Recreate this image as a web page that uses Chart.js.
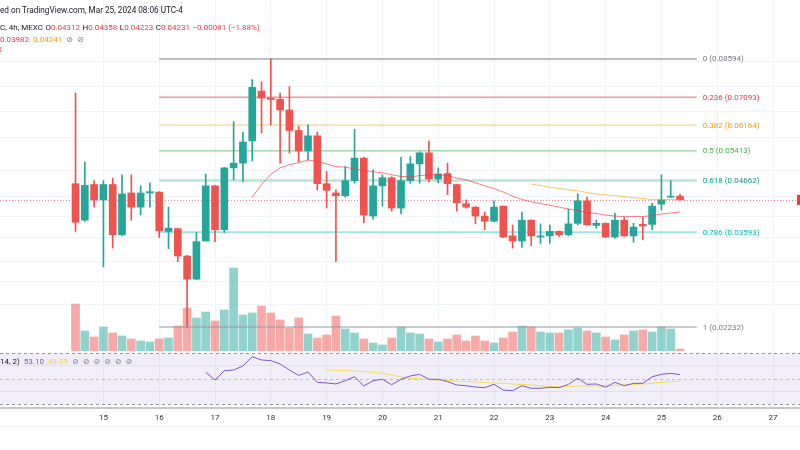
<!DOCTYPE html>
<html><head><meta charset="utf-8">
<script src="https://cdn.jsdelivr.net/npm/chart.js@4.4.1/dist/chart.umd.min.js"></script>
<style>
html,body{margin:0;padding:0;background:#fff;width:800px;height:450px;overflow:hidden;font-family:Roboto,"DejaVu Sans",sans-serif;}
canvas{position:absolute;left:0;}
#c1{top:0;}
#c2{top:351px;}
.t{position:absolute;font-size:8px;line-height:10px;white-space:pre;color:#131722;}
.r{color:#f23645;}
.o{color:#ff9800;}
.g{color:#787b86;}
.p{color:#7e57c2;}
.y{color:#f2cf2e;}
.s{margin-left:4px;}
.s2{margin-left:2.5px;}
</style></head><body>
<canvas id="c1" width="800" height="351"></canvas>
<canvas id="c2" width="800" height="81"></canvas>
<div class="t" style="top:4.5px;left:0;font-size:8.2px">ed on TradingView.com, Mar 25, 2024 08:06 UTC-4</div>
<div class="t" style="top:23px;left:0">C, 4h, MEXC<span class="s2">O</span><span class="r">0.04312</span><span class="s2">H</span><span class="r">0.04358</span><span class="s2">L</span><span class="r">0.04223</span><span class="s2">C</span><span class="r">0.04231</span><span class="r s2">−0.00081 (−1.88%)</span></div>
<div class="t" style="top:34.5px;left:0"><span class="r">0.03982</span><span class="o s">0.04241</span><span class="g s">⊘</span><span class="g s">⊘</span></div>
<div class="t r" style="top:45px;left:-3px">X</div>
<div class="t" style="top:356.5px;left:0"><span>14, 2)</span><span class="p s">53.10</span><span class="y s">48.09</span><span class="g s">⊘</span><span class="g s">⊘</span><span class="g s">⊘</span><span class="g s">⊘</span><span class="g s">⊘</span><span class="g s">⊘</span></div>
<script>
// ---- data (4h candles, MEXC, first candle Mar 14 12:00) ----
const opens  = [0.0459,0.0382,0.0457,0.0423,0.0457,0.0355,0.0438,0.0408,0.0438,0.0440,
                0.0361,0.0366,0.0319,0.0284,0.0344,0.0454,0.0364,0.0497,0.0509,0.0569,
                0.0731,0.0706,0.0702,0.0665,0.0600,0.0541,0.0584,0.0459,0.0438,0.0432,
                0.0466,0.0522,0.0390,0.0454,0.0473,0.0406,0.0466,0.0507,0.0536,0.0470,
                0.0483,0.0457,0.0415,0.0408,0.0390,0.0380,0.0410,0.0353,0.0344,0.0382,
                0.0351,0.0353,0.0361,0.0355,0.0376,0.0421,0.0372,0.0376,0.0351,0.0382,
                0.0353,0.0374,0.0374,0.0414,0.0429,0.04312];
const highs  = [0.0724,0.0512,0.0466,0.0466,0.0472,0.0480,0.0480,0.0454,0.0461,0.0441,
                0.0408,0.0367,0.0320,0.0359,0.0482,0.0455,0.0498,0.0627,0.0595,0.0775,
                0.0766,0.08594,0.0724,0.0748,0.0613,0.0617,0.0595,0.0488,0.0445,0.0500,
                0.0603,0.0524,0.0492,0.0480,0.0475,0.0524,0.0526,0.0539,0.0569,0.0497,
                0.0509,0.0458,0.0423,0.0409,0.0398,0.0421,0.0410,0.0373,0.0398,0.0383,
                0.0375,0.0373,0.0362,0.0404,0.0436,0.0429,0.0382,0.0377,0.0396,0.0387,
                0.0376,0.0387,0.0416,0.0480,0.0466,0.04358];
const lows   = [0.0361,0.0380,0.0408,0.0302,0.0332,0.0354,0.0382,0.0392,0.0408,0.0350,
                0.0331,0.0310,0.02232,0.0283,0.0344,0.0343,0.0359,0.0468,0.0463,0.0515,
                0.0592,0.0617,0.0509,0.0535,0.0512,0.0517,0.0445,0.0406,0.0310,0.0429,
                0.0460,0.0377,0.0384,0.0410,0.0400,0.0394,0.0460,0.0460,0.0463,0.0461,
                0.0434,0.0400,0.0406,0.0375,0.0364,0.0379,0.0350,0.0332,0.0333,0.0336,
                0.0340,0.0340,0.0352,0.0353,0.0373,0.0372,0.0367,0.0350,0.0349,0.0352,
                0.0342,0.0346,0.0364,0.0402,0.0428,0.04223];
const closes = [0.0378,0.0455,0.0423,0.0457,0.0355,0.0436,0.0408,0.0438,0.0441,0.0362,
                0.0367,0.0319,0.0284,0.0343,0.0454,0.0364,0.0497,0.0509,0.0566,0.0745,
                0.0706,0.0701,0.0665,0.0600,0.0541,0.0584,0.0459,0.0444,0.0432,0.0466,
                0.0522,0.0392,0.0454,0.0473,0.0406,0.0466,0.0507,0.0536,0.0470,0.0482,
                0.0459,0.0417,0.0408,0.0390,0.0380,0.0408,0.0351,0.0344,0.0382,0.0353,
                0.0353,0.0361,0.0355,0.0375,0.0421,0.0373,0.0376,0.0351,0.0382,0.0353,
                0.0369,0.0371,0.0410,0.0423,0.04312,0.04231];
const volumes = [47,20,14,24,18,15,12,10,9,12,
                 13,25,43,33,39,30,41,83,36,38,
                 45,38,31,23,33,17,13,16,35,22,
                 18,12,8,6,13,24,18,17,12,9,
                 12,16,10,15,10,8,13,19,25,24,
                 19,18,18,21,23,20,18,14,11,16,
                 20,21,19,24,22,2];
const ma20Start = 19;
const ma20 = [0.0429,0.0457,0.0481,0.0497,0.0505,0.0510,0.0517,0.0514,0.0507,0.0500,
              0.0499,0.0494,0.0491,0.0487,0.0485,0.0480,0.0476,0.0475,0.0478,0.0480,
              0.0480,0.0478,0.0472,0.0468,0.0461,0.0454,0.0448,0.0440,0.0431,0.0424,
              0.0419,0.0415,0.0412,0.0408,0.0404,0.0401,0.0397,0.0395,0.0392,0.0390,
              0.0389,0.0389,0.0389,0.0391,0.0394,0.0396,0.03982];
const ma50Start = 49;
const ma50 = [0.0458,0.0455,0.0451,0.0448,0.0445,0.0443,0.0439,0.0436,0.0434,0.0432,
              0.0430,0.0428,0.0426,0.0424,0.0423,0.0424,0.04241];
const rsiStart = 14;
const rsi = [55.0,48.9,56.3,56.8,60.0,67.3,64.7,64.2,61.6,56.8,52.6,55.2,47.1,46.6,45.8,
             48.4,51.5,44.2,48.4,49.5,45.2,49.5,52.1,53.4,49.5,49.5,47.6,45.0,44.4,43.4,
             42.9,45.5,41.0,40.5,44.4,42.4,42.4,43.2,42.9,45.5,50.3,45.5,45.8,43.2,47.1,
             44.4,46.3,46.3,51.5,53.4,54.2,53.1];
const rsiMaStart = 27;
const rsiMa = [56.8,56.6,56.3,56.0,55.6,55.0,54.1,52.9,51.3,50.3,49.7,49.3,48.9,48.5,48.1,
               47.8,47.4,47.0,46.6,46.2,45.8,45.4,45.0,44.4,44.0,43.6,43.8,44.2,44.2,44.2,
               44.4,44.8,45.1,45.5,45.8,46.3,47.0,47.7,48.09];
const fibRatios = ['0','0.236','0.382','0.5','0.618','0.786','1'];
const fibPrices = [0.08594,0.07093,0.06164,0.05413,0.04662,0.03593,0.02232];
const fibFrom = 9, fibTo = 66.8;
const dayTicks  = [3,9,15,21,27,33,39,45,51,57,63,69,75];
const dayLabels = ['15','16','17','18','19','20','21','22','23','24','25','26','27'];
const priceGrid = [0.085,0.075,0.066,0.058,0.049,0.043,0.039,0.035,0.031,0.028,0.025];
const rsiBands = [70,50,30];
const rsiGrid = [60,40];

// ---- styling ----
const UP = '#26a69a', DN = '#ef5350';
const UPV = 'rgba(38,166,154,0.5)', DNV = 'rgba(239,83,80,0.5)';
const GRID = '#f0f3fa';
const FONT = 'Roboto, "DejaVu Sans", sans-serif';
const fibLine = ['#787b86','rgba(242,54,69,0.8)','rgba(255,152,0,0.55)','rgba(76,175,80,0.75)','rgba(8,153,129,0.28)','rgba(0,188,212,0.4)','#9598a1'];
const fibWidth = [1,1,1,1,2.5,2,1];
const fibText = ['#787b86','#f23645','#ff9800','#4caf50','#089981','#00bcd4','#787b86'];
const X_MIN = -8.12, X_MAX = 77.9;

const isUp = closes.map((c,i)=>c>=opens[i]);
const cCol = isUp.map(u=>u?UP:DN);
const vCol = isUp.map(u=>u?UPV:DNV);
const idx = closes.map((_,i)=>i);

const datasets = [];
datasets.push({type:'bar', label:'vol', yAxisID:'yVol', order:20, grouped:false, barThickness:8,
  data: idx.map(i=>({x:i,y:volumes[i]})), backgroundColor:vCol});
fibPrices.forEach((p,k)=>{
  datasets.push({type:'line', label:'fib'+k, yAxisID:'y', order:10,
    data:[{x:fibFrom,y:p},{x:fibTo,y:p}], borderColor:fibLine[k], borderWidth:fibWidth[k],
    pointRadius:0, fill:false});
});
datasets.push({type:'bar', label:'wick', yAxisID:'y', order:3, grouped:false, barThickness:1,
  data: idx.map(i=>({x:i,y:[lows[i],highs[i]]})), backgroundColor:cCol});
datasets.push({type:'bar', label:'body', yAxisID:'y', order:2, grouped:false, barThickness:7,
  data: idx.map(i=>({x:i,y:[opens[i],closes[i]]})), backgroundColor:cCol});
datasets.push({type:'line', label:'ma20', yAxisID:'y', order:1,
  data: ma20.map((v,k)=>({x:ma20Start+k,y:v})), borderColor:'rgba(242,54,69,0.65)', borderWidth:1, pointRadius:0, tension:0});
datasets.push({type:'line', label:'ma50', yAxisID:'y', order:1,
  data: ma50.map((v,k)=>({x:ma50Start+k,y:v})), borderColor:'rgba(255,152,0,0.6)', borderWidth:1, pointRadius:0, tension:0});

const lastClose = closes[closes.length-1];
const overlay1 = {
  id:'overlay1',
  beforeDatasetsDraw(chart){
    const {ctx, chartArea:a, scales:{y}} = chart;
    const py = Math.round(y.getPixelForValue(lastClose))+0.5;
    ctx.save();
    ctx.strokeStyle='rgba(242,54,69,0.6)'; ctx.lineWidth=1; ctx.setLineDash([1,2]);
    ctx.beginPath(); ctx.moveTo(a.left,py); ctx.lineTo(a.right,py); ctx.stroke();
    ctx.restore();
  },
  afterDatasetsDraw(chart){
    const {ctx, chartArea:a, scales:{x,y}} = chart;
    ctx.save();
    ctx.font = '8px '+FONT; ctx.textBaseline='middle'; ctx.textAlign='left';
    const lx = x.getPixelForValue(fibTo)+6;
    fibPrices.forEach((p,k)=>{
      ctx.fillStyle = fibText[k];
      ctx.fillText(fibRatios[k]+' ('+p.toFixed(5)+')', lx, y.getPixelForValue(p)+0.5);
    });
    const py = y.getPixelForValue(lastClose);
    ctx.fillStyle='#f23645';
    ctx.fillRect(a.right-3, py-5, 6, 10);
    ctx.restore();
  }
};

new Chart(document.getElementById('c1'), {
  type:'bar',
  data:{datasets},
  options:{
    responsive:false, animation:false, devicePixelRatio:1,
    layout:{padding:0},
    plugins:{legend:{display:false}, tooltip:{enabled:false}},
    events:[],
    scales:{
      x:{type:'linear', min:X_MIN, max:X_MAX, offset:false,
         grid:{color:GRID, drawTicks:false, offset:false}, border:{display:false},
         ticks:{display:false},
         afterBuildTicks(s){ s.ticks = dayTicks.map(v=>({value:v})); }},
      y:{type:'logarithmic', min:0.11563/5.8447, max:0.11563, bounds:'data', position:'right',
         grid:{color:GRID, drawTicks:false}, border:{display:false}, ticks:{display:false},
         afterBuildTicks(s){ s.ticks = priceGrid.map(v=>({value:v})); }},
      yVol:{type:'linear', min:0, max:351, display:false}
    }
  },
  plugins:[overlay1]
});

const overlay2 = {
  id:'overlay2',
  beforeDatasetsDraw(chart){
    const {ctx, chartArea:a, scales:{y}} = chart;
    ctx.save();
    const y70 = y.getPixelForValue(rsiBands[0]), y30 = y.getPixelForValue(rsiBands[2]);
    ctx.fillStyle='rgba(126,87,194,0.1)';
    ctx.fillRect(a.left, y70, a.right-a.left, y30-y70);
    ctx.lineWidth=1;
    rsiBands.forEach((b,k)=>{
      const py = Math.round(y.getPixelForValue(b))+0.5;
      ctx.strokeStyle = k===1 ? 'rgba(120,123,134,0.45)' : 'rgba(120,123,134,0.8)';
      ctx.setLineDash([3,3]);
      ctx.beginPath(); ctx.moveTo(a.left,py); ctx.lineTo(a.right,py); ctx.stroke();
    });
    ctx.restore();
  },
  afterDraw(chart){
    const {ctx, chartArea:a} = chart;
    ctx.save();
    ctx.strokeStyle='#c5c7cc'; ctx.lineWidth=2;
    ctx.beginPath(); ctx.moveTo(0,a.bottom+1); ctx.lineTo(800,a.bottom+1); ctx.stroke();
    ctx.strokeStyle=GRID; ctx.lineWidth=1;
    ctx.beginPath(); ctx.moveTo(0,a.bottom+19.5); ctx.lineTo(800,a.bottom+19.5); ctx.stroke();
    ctx.restore();
  }
};

new Chart(document.getElementById('c2'), {
  type:'line',
  data:{datasets:[
    {label:'rsi', data: rsi.map((v,k)=>({x:rsiStart+k,y:v})), borderColor:'#7e57c2', borderWidth:1, pointRadius:0, tension:0, order:1},
    {label:'rsima', data: rsiMa.map((v,k)=>({x:rsiMaStart+k,y:v})), borderColor:'#f7dc4f', borderWidth:1, pointRadius:0, tension:0, order:2}
  ]},
  options:{
    responsive:false, animation:false, devicePixelRatio:1,
    layout:{padding:0},
    plugins:{legend:{display:false}, tooltip:{enabled:false}},
    events:[],
    scales:{
      x:{type:'linear', min:X_MIN, max:X_MAX, offset:false,
         grid:{color:GRID, drawTicks:false}, border:{display:false},
         ticks:{autoSkip:false, maxRotation:0, padding:6, color:'#2a2e39', font:{size:8, family:FONT},
                callback:(v)=>{const k=dayTicks.indexOf(v); return k>=0?dayLabels[k]:'';}},
         afterBuildTicks(s){ s.ticks = dayTicks.map(v=>({value:v})); },
         afterFit(s){ s.height = 25; }},
      y:{type:'linear', min:27.63, max:71.81, position:'right',
         grid:{color:'rgba(225,225,235,0.6)', drawTicks:false}, border:{display:false}, ticks:{display:false},
         afterBuildTicks(s){ s.ticks = rsiGrid.map(v=>({value:v})); }}
    }
  },
  plugins:[overlay2]
});
</script>
</body></html>
